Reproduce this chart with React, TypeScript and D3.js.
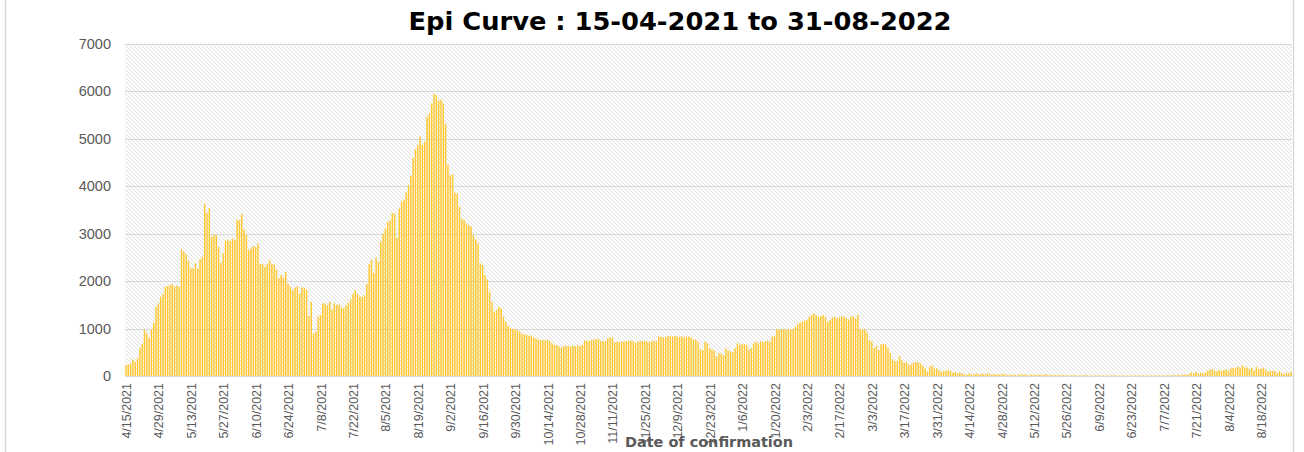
import React from "react";
import * as d3 from "d3";

// daily confirmed cases, 15-04-2021 .. 31-08-2022 (one value per day)
const cases: number[] = [
  230, 245, 265, 350, 300, 370, 580, 675, 970, 900,
  795, 985, 1110, 1460, 1530, 1670, 1730, 1880, 1900, 1915,
  1940, 1880, 1905, 1880, 2670, 2625, 2565, 2430, 2270, 2270,
  2375, 2270, 2460, 2515, 3625, 3440, 3540, 2935, 2970, 2970,
  2725, 2390, 2585, 2850, 2880, 2850, 2900, 2865, 3300, 3285,
  3415, 3090, 2970, 2655, 2690, 2740, 2725, 2795, 2360, 2360,
  2300, 2360, 2445, 2360, 2355, 2245, 2060, 2130, 2080, 2200,
  1940, 1880, 1810, 1860, 1895, 1740, 1870, 1865, 1825, 1265,
  1565, 900, 935, 1250, 1285, 1530, 1530, 1495, 1565, 1405,
  1530, 1495, 1510, 1445, 1425, 1495, 1545, 1615, 1730, 1810,
  1730, 1670, 1670, 1700, 1940, 2360, 2445, 2175, 2500, 2410,
  2830, 3005, 3110, 3250, 3285, 3440, 3425, 2915, 3530, 3670,
  3720, 3870, 4020, 4220, 4590, 4780, 4870, 5050, 4880, 4940,
  5460, 5540, 5750, 5950, 5920, 5810, 5830, 5750, 5320, 4450,
  4230, 4250, 3870, 3840, 3570, 3320, 3290, 3215, 3180, 3150,
  2970, 2880, 2795, 2375, 2340, 2130, 2035, 1775, 1565, 1355,
  1390, 1460, 1425, 1250, 1145, 1055, 1005, 990, 985, 970,
  935, 885, 880, 865, 850, 850, 815, 795, 770, 760,
  760, 755, 760, 735, 690, 655, 650, 620, 605, 630,
  635, 630, 625, 635, 630, 640, 630, 655, 745, 745,
  740, 760, 770, 775, 785, 735, 740, 725, 795, 815,
  815, 715, 720, 715, 725, 730, 735, 740, 745, 735,
  700, 725, 735, 740, 735, 725, 715, 730, 745, 730,
  830, 825, 815, 820, 845, 840, 835, 845, 830, 825,
  835, 815, 830, 835, 815, 770, 760, 725, 560, 550,
  725, 690, 585, 560, 535, 410, 480, 475, 440, 585,
  535, 515, 510, 585, 690, 655, 675, 670, 655, 550,
  585, 690, 725, 690, 725, 720, 725, 745, 720, 830,
  845, 985, 980, 985, 990, 980, 985, 985, 990, 1040,
  1095, 1125, 1145, 1160, 1180, 1250, 1285, 1320, 1285, 1250,
  1265, 1285, 1250, 1145, 1180, 1235, 1250, 1215, 1235, 1265,
  1250, 1215, 1195, 1250, 1265, 1215, 1285, 985, 985, 985,
  915, 760, 725, 585, 635, 550, 665, 675, 665, 585,
  480, 350, 315, 315, 420, 335, 280, 295, 230, 245,
  280, 295, 295, 265, 220, 160, 90, 195, 225, 160,
  160, 125, 90, 110, 110, 125, 110, 70, 85, 55,
  70, 55, 40, 30, 55, 40, 30, 55, 40, 40,
  55, 35, 55, 35, 30, 40, 35, 30, 40, 40,
  30, 20, 30, 20, 30, 20, 30, 40, 30, 20,
  20, 35, 25, 20, 30, 25, 20, 40, 25, 20,
  15, 20, 15, 25, 15, 20, 15, 10, 15, 20,
  15, 10, 15, 10, 20, 15, 10, 15, 10, 10,
  15, 10, 10, 15, 10, 10, 15, 10, 10, 10,
  15, 10, 10, 10, 15, 10, 10, 10, 15, 10,
  10, 10, 15, 10, 10, 15, 10, 15, 10, 15,
  15, 10, 20, 15, 25, 20, 25, 30, 25, 40,
  75, 55, 85, 55, 70, 55, 70, 110, 140, 140,
  110, 100, 125, 110, 125, 140, 110, 160, 175, 160,
  195, 175, 225, 185, 175, 140, 175, 110, 195, 150,
  155, 175, 140, 90, 100, 110, 105, 55, 105, 55,
  40, 70, 55, 85,
];

const tickLabels: string[] = [
  "4/15/2021", "4/29/2021", "5/13/2021", "5/27/2021", "6/10/2021", "6/24/2021",
  "7/8/2021", "7/22/2021", "8/5/2021", "8/19/2021", "9/2/2021", "9/16/2021",
  "9/30/2021", "10/14/2021", "10/28/2021", "11/11/2021", "11/25/2021", "12/9/2021",
  "12/23/2021", "1/6/2022", "1/20/2022", "2/3/2022", "2/17/2022", "3/3/2022",
  "3/17/2022", "3/31/2022", "4/14/2022", "4/28/2022", "5/12/2022", "5/26/2022",
  "6/9/2022", "6/23/2022", "7/7/2022", "7/21/2022", "8/4/2022", "8/18/2022",
];

const yTicks: number[] = [0, 1000, 2000, 3000, 4000, 5000, 6000, 7000];

const title = "Epi Curve : 15-04-2021 to 31-08-2022";
const xTitle = "Date of confirmation";

const W = 1304;
const H = 452;
const left = 125;
const right = 1292;
const top = 44;
const bottom = 376;

function App() {
  const fmt = d3.timeFormat("%-m/%-d/%Y");
  const start = new Date(2021, 3, 15);
  const dates = d3.timeDay
    .range(start, d3.timeDay.offset(start, cases.length))
    .map((d) => fmt(d));

  const x = d3
    .scaleBand<string>()
    .domain(dates)
    .range([left, right])
    .paddingInner(0.38)
    .paddingOuter(0.1);

  const y = d3.scaleLinear().domain([0, 7000]).range([bottom, top]);

  const gridColor = "#d9d9d9";
  const textColor = "#595959";

  return (
    <svg
      width={W}
      height={H}
      style={{ position: "absolute", left: 0, top: 0, background: "#fff" }}
    >
      <defs>
        <pattern id="hatch" patternUnits="userSpaceOnUse" width={4} height={4}>
          <rect width={4} height={4} fill="#fdfdfd" />
          <path
            d="M-1,-1 L5,5 M-1,3 L1,5 M3,-1 L5,1"
            stroke="#dadada"
            strokeWidth={0.85}
          />
        </pattern>
      </defs>

      {/* chart area border */}
      <line x1={5.5} x2={5.5} y1={0} y2={H} stroke={gridColor} strokeWidth={1.5} />
      <line x1={1293.5} x2={1293.5} y1={0} y2={H} stroke={gridColor} strokeWidth={1.5} />

      <text
        x={680}
        y={30}
        textAnchor="middle"
        fontFamily="'DejaVu Sans', Verdana, sans-serif"
        fontWeight="bold"
        fontSize={24}
        textLength={543}
        lengthAdjust="spacingAndGlyphs"
        fill="#000"
      >
        {title}
      </text>

      <rect x={left} y={top} width={right - left} height={bottom - top} fill="url(#hatch)" />

      {yTicks.map((t) => (
        <g key={t}>
          {t > 0 && (
            <line
              x1={left}
              x2={right}
              y1={Math.round(y(t)) + 0.5}
              y2={Math.round(y(t)) + 0.5}
              stroke={gridColor}
              strokeWidth={1}
            />
          )}
          <text
            x={111}
            y={y(t) + 5}
            textAnchor="end"
            fontFamily="'Liberation Sans', Arial, sans-serif"
            fontSize={14.5}
            fill={textColor}
          >
            {t}
          </text>
        </g>
      ))}

      {cases.map((v, i) => (
        <rect
          key={i}
          x={x(dates[i])}
          y={y(v)}
          width={x.bandwidth()}
          height={bottom - y(v)}
          fill="#ffc830"
        />
      ))}

      <line x1={left} x2={right} y1={bottom + 0.5} y2={bottom + 0.5} stroke={gridColor} strokeWidth={1} />

      {tickLabels.map((lab) => {
        const cx = (x(lab) ?? 0) + x.bandwidth() / 2;
        return (
          <text
            key={lab}
            transform={`translate(${cx + 5},${bottom + 7}) rotate(-90)`}
            textAnchor="end"
            fontFamily="'Liberation Sans Narrow', 'Arial Narrow', sans-serif"
            fontSize={12.5}
            fill={textColor}
          >
            {lab}
          </text>
        );
      })}

      <text
        x={709}
        y={447}
        textAnchor="middle"
        fontFamily="'DejaVu Sans', Verdana, sans-serif"
        fontWeight="bold"
        fontSize={13.5}
        textLength={168}
        lengthAdjust="spacingAndGlyphs"
        fill={textColor}
      >
        {xTitle}
      </text>
    </svg>
  );
}

export default App;
